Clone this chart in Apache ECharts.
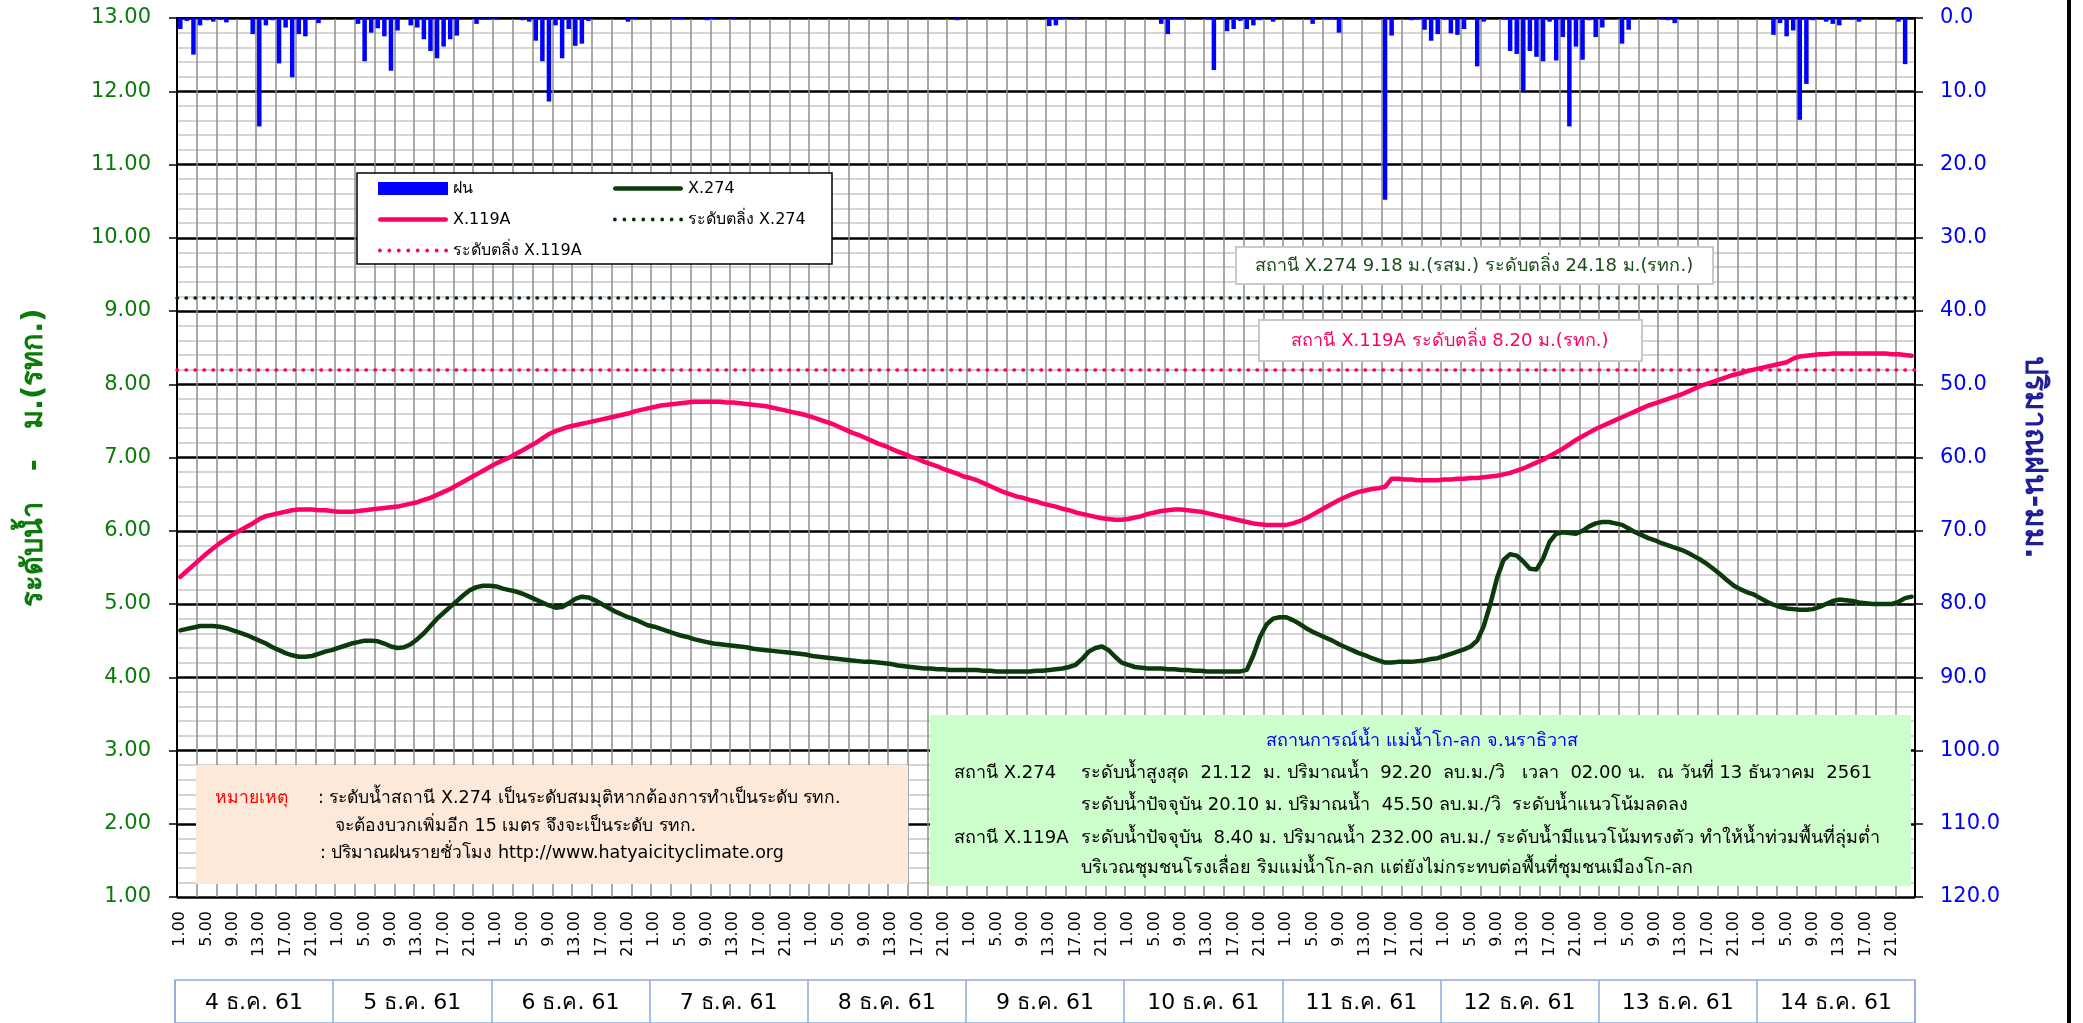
<!DOCTYPE html>
<html>
<head>
<meta charset="utf-8">
<title>X.274 / X.119A</title>
<script src="https://cdn.jsdelivr.net/npm/echarts@6/dist/echarts.min.js"></script>
<style>
html, body { margin: 0; padding: 0; background: #fff; }
#chart { width: 2083px; height: 1023px; }
</style>
</head>
<body>
<div id="chart"></div>
<script>
var hours = ['1.00', '2.00', '3.00', '4.00', '5.00', '6.00', '7.00', '8.00', '9.00', '10.00', '11.00', '12.00',
  '13.00', '14.00', '15.00', '16.00', '17.00', '18.00', '19.00', '20.00', '21.00', '22.00', '23.00', '24.00']
var days = ['4 ธ.ค. 61', '5 ธ.ค. 61', '6 ธ.ค. 61', '7 ธ.ค. 61', '8 ธ.ค. 61', '9 ธ.ค. 61',
  '10 ธ.ค. 61', '11 ธ.ค. 61', '12 ธ.ค. 61', '13 ธ.ค. 61', '14 ธ.ค. 61']

// hourly rain (mm), one row per day
var rain = [
  1.5, 0.4, 5.0, 1.0, 0.3, 0.5, 0.2, 0.6, 0, 0, 0, 2.2, 14.8, 1.0, 0.3, 6.2, 1.3, 8.1, 2.2, 2.5, 0.15, 0.7, 0, 0,
  0, 0, 0, 0.8, 5.9, 2.0, 1.4, 2.5, 7.2, 1.7, 0, 1.0, 1.3, 2.9, 4.5, 5.5, 3.9, 2.9, 2.4, 0, 0, 0.8, 0.2, 0.15,
  0.15, 0, 0, 0, 0.3, 0.5, 3.1, 5.9, 11.4, 1.0, 5.5, 1.5, 3.8, 3.5, 0.4, 0, 0, 0, 0, 0, 0.5, 0.15, 0, 0,
  0, 0, 0, 0.15, 0.15, 0, 0, 0, 0.3, 0.15, 0, 0, 0.15, 0, 0, 0, 0, 0, 0, 0, 0, 0, 0, 0,
  0, 0, 0, 0, 0, 0, 0, 0, 0, 0, 0, 0, 0, 0, 0, 0, 0, 0, 0, 0, 0, 0, 0.3, 0,
  0, 0, 0, 0, 0, 0, 0, 0, 0, 0, 0, 0, 1.1, 1.0, 0.15, 0, 0.2, 0, 0, 0, 0, 0, 0, 0,
  0, 0, 0, 0, 0, 0.8, 2.2, 0.15, 0.15, 0, 0, 0, 0.15, 7.1, 0, 1.8, 1.5, 0.4, 1.5, 1.0, 0.3, 0, 0.5, 0,
  0, 0, 0, 0, 0.8, 0, 0.15, 0.15, 2.0, 0, 0, 0, 0, 0, 0, 24.8, 2.4, 0, 0, 0.3, 0.15, 1.6, 3.1, 2.2,
  0.15, 2.1, 2.3, 1.5, 0, 6.6, 0.5, 0, 0, 0.15, 4.5, 4.9, 10.0, 4.5, 5.3, 5.9, 0.5, 5.8, 2.6, 14.8, 3.9, 5.7, 0.3, 2.6,
  1.3, 0, 0, 3.5, 1.6, 0, 0, 0, 0, 0.15, 0.3, 0.7, 0, 0, 0, 0, 0, 0, 0, 0, 0, 0, 0, 0,
  0, 0, 2.3, 0.7, 2.5, 1.7, 13.9, 9.0, 0.3, 0, 0.5, 0.8, 1.0, 0, 0.15, 0.5, 0, 0, 0, 0, 0, 0.5, 6.3, 0
]

// water level X.274 (m), hourly
var levelX274 = [
  4.64, 4.66, 4.68, 4.70, 4.70, 4.70, 4.69, 4.67, 4.64, 4.61, 4.58, 4.54, 4.50, 4.46, 4.41, 4.37, 4.33, 4.30, 4.28, 4.28, 4.29, 4.32, 4.35, 4.37,
  4.40, 4.43, 4.46, 4.48, 4.50, 4.50, 4.49, 4.46, 4.42, 4.40, 4.41, 4.45, 4.52, 4.60, 4.70, 4.80, 4.88, 4.96, 5.04, 5.12, 5.19, 5.23, 5.25, 5.25,
  5.24, 5.21, 5.19, 5.17, 5.14, 5.10, 5.06, 5.02, 4.98, 4.95, 4.96, 5.01, 5.07, 5.10, 5.09, 5.05, 5.00, 4.95, 4.90, 4.86, 4.82, 4.79, 4.75, 4.71,
  4.69, 4.66, 4.63, 4.60, 4.57, 4.55, 4.52, 4.50, 4.48, 4.46, 4.45, 4.44, 4.43, 4.42, 4.41, 4.39, 4.38, 4.37, 4.36, 4.35, 4.34, 4.33, 4.32, 4.31,
  4.29, 4.28, 4.27, 4.26, 4.25, 4.24, 4.23, 4.22, 4.21, 4.21, 4.20, 4.19, 4.18, 4.16, 4.15, 4.14, 4.13, 4.12, 4.12, 4.11, 4.11, 4.10, 4.10, 4.10,
  4.10, 4.10, 4.09, 4.09, 4.08, 4.08, 4.08, 4.08, 4.08, 4.08, 4.09, 4.09, 4.10, 4.11, 4.12, 4.14, 4.17, 4.25, 4.35, 4.40, 4.42, 4.37, 4.28, 4.20,
  4.17, 4.14, 4.13, 4.12, 4.12, 4.12, 4.11, 4.11, 4.10, 4.10, 4.09, 4.09, 4.08, 4.08, 4.08, 4.08, 4.08, 4.08, 4.10, 4.30, 4.55, 4.72, 4.80, 4.82,
  4.82, 4.78, 4.73, 4.67, 4.62, 4.58, 4.54, 4.50, 4.45, 4.41, 4.37, 4.33, 4.30, 4.26, 4.23, 4.20, 4.20, 4.21, 4.21, 4.21, 4.22, 4.23, 4.25, 4.26,
  4.29, 4.32, 4.35, 4.38, 4.42, 4.50, 4.70, 5.00, 5.35, 5.60, 5.68, 5.66, 5.58, 5.48, 5.47, 5.62, 5.85, 5.96, 5.98, 5.97, 5.96, 6.00, 6.06, 6.10,
  6.12, 6.12, 6.10, 6.08, 6.03, 5.98, 5.94, 5.90, 5.87, 5.83, 5.80, 5.77, 5.74, 5.70, 5.65, 5.60, 5.54, 5.47, 5.40, 5.32, 5.25, 5.20, 5.16, 5.13,
  5.08, 5.03, 4.99, 4.96, 4.94, 4.93, 4.92, 4.92, 4.93, 4.96, 5.00, 5.04, 5.06, 5.05, 5.04, 5.02, 5.01, 5.00, 5.00, 5.00, 5.00, 5.03, 5.08, 5.10
]

// water level X.119A (m), hourly
var levelX119A = [
  5.37, 5.45, 5.53, 5.61, 5.69, 5.76, 5.83, 5.89, 5.95, 6.00, 6.05, 6.10, 6.16, 6.20, 6.22, 6.24, 6.26, 6.28, 6.29, 6.29, 6.29, 6.28, 6.28, 6.27,
  6.26, 6.26, 6.26, 6.27, 6.28, 6.29, 6.30, 6.31, 6.32, 6.33, 6.35, 6.37, 6.39, 6.42, 6.45, 6.49, 6.53, 6.57, 6.62, 6.67, 6.72, 6.77, 6.82, 6.87,
  6.92, 6.96, 7.00, 7.05, 7.10, 7.15, 7.20, 7.26, 7.32, 7.36, 7.39, 7.42, 7.44, 7.46, 7.48, 7.50, 7.52, 7.54, 7.56, 7.58, 7.60, 7.63, 7.65, 7.67,
  7.69, 7.71, 7.72, 7.73, 7.74, 7.75, 7.76, 7.76, 7.76, 7.76, 7.76, 7.75, 7.75, 7.74, 7.73, 7.72, 7.71, 7.70, 7.68, 7.66, 7.64, 7.62, 7.60, 7.58,
  7.55, 7.52, 7.49, 7.46, 7.42, 7.38, 7.34, 7.31, 7.27, 7.23, 7.19, 7.16, 7.12, 7.08, 7.05, 7.01, 6.98, 6.94, 6.91, 6.88, 6.84, 6.81, 6.78, 6.74,
  6.72, 6.69, 6.65, 6.61, 6.57, 6.53, 6.50, 6.47, 6.45, 6.42, 6.40, 6.37, 6.35, 6.33, 6.30, 6.28, 6.25, 6.23, 6.21, 6.19, 6.17, 6.16, 6.15, 6.15,
  6.16, 6.18, 6.20, 6.23, 6.25, 6.27, 6.28, 6.29, 6.29, 6.28, 6.27, 6.26, 6.24, 6.22, 6.20, 6.18, 6.16, 6.14, 6.12, 6.10, 6.09, 6.08, 6.08, 6.08,
  6.08, 6.10, 6.13, 6.17, 6.22, 6.27, 6.32, 6.37, 6.42, 6.46, 6.50, 6.53, 6.55, 6.57, 6.58, 6.60, 6.71, 6.71, 6.70, 6.70, 6.69, 6.69, 6.69, 6.69,
  6.70, 6.70, 6.71, 6.71, 6.72, 6.72, 6.73, 6.74, 6.75, 6.77, 6.79, 6.82, 6.85, 6.89, 6.93, 6.97, 7.02, 7.07, 7.12, 7.18, 7.24, 7.29, 7.34, 7.39,
  7.43, 7.47, 7.51, 7.55, 7.59, 7.63, 7.67, 7.71, 7.74, 7.77, 7.80, 7.83, 7.86, 7.90, 7.94, 7.98, 8.01, 8.04, 8.07, 8.10, 8.13, 8.15, 8.18, 8.20,
  8.22, 8.24, 8.26, 8.28, 8.30, 8.35, 8.38, 8.39, 8.40, 8.41, 8.41, 8.42, 8.42, 8.42, 8.42, 8.42, 8.42, 8.42, 8.42, 8.42, 8.41, 8.41, 8.40, 8.39
]

var bankX274 = 9.18
var bankX119A = 8.20

var categories = []
days.forEach(function(d) {
  hours.forEach(function(h) {
    categories.push(d + '|' + h)
  })
})

var FONT = 'Tahoma, "DejaVu Sans", "Noto Sans", sans-serif'
var PINK = '#ff0066'
var DKGREEN = '#0b3a0b'
var BANKGREEN = '#003300'

// legend icons: a thick rounded stroke and a row of dots, 70px wide
var ICON_LINE = 'path://M2.25,0 L67.75,0 A2.25,2.25 0 0 1 67.75,4.5 L2.25,4.5 A2.25,2.25 0 0 1 2.25,0 Z'
var ICON_DOTS = 'path://'
for (var k = 0; k < 8; k++) {
  var cx = 1.9 + k * 9.46
  ICON_DOTS += 'M' + (cx - 1.9) + ',1.9 A1.9,1.9 0 1 0 ' + (cx + 1.9) + ',1.9 A1.9,1.9 0 1 0 ' + (cx - 1.9) + ',1.9 Z '
}

var myChart = echarts.init(document.getElementById('chart'))

function txt(x, y, text, color, size, align, weight) {
  return {
    type: 'text',
    x: x,
    y: y,
    z: 100,
    style: {
      text: text,
      fill: color,
      font: (weight || 'normal') + ' ' + size + 'px ' + FONT,
      align: align || 'left',
      textAlign: align || 'left',
      verticalAlign: 'middle',
      textVerticalAlign: 'middle'
    }
  }
}

function box(x, y, w, h, fill, stroke) {
  return {
    type: 'rect',
    z: 99,
    shape: { x: x, y: y, width: w, height: h },
    style: { fill: fill, stroke: stroke || null, lineWidth: stroke ? 2 : 0 }
  }
}

var option = {
  animation: false,
  backgroundColor: '#fff',
  textStyle: { fontFamily: FONT },
  grid: [
    { left: 177, top: 18, width: 1738, height: 879, containLabel: false },
    { left: 175, top: 980, width: 1740, height: 70, show: true, borderColor: '#8eaadb', borderWidth: 1.5, backgroundColor: '#fff' }
  ],
  legend: {
    left: 357,
    top: 173,
    width: 470,
    itemWidth: 70,
    itemHeight: 13,
    itemGap: 10,
    padding: [5, 4, 3, 21],
    backgroundColor: '#fff',
    borderColor: '#000',
    borderWidth: 1.5,
    borderRadius: 0,
    symbolKeepAspect: true,
    textStyle: { fontSize: 16, color: '#000', width: 150, lineHeight: 21, fontFamily: FONT },
    data: [
      { name: 'ฝน', icon: 'rect', itemStyle: { color: '#0000ff', borderWidth: 0 } },
      { name: 'X.274', icon: ICON_LINE, itemStyle: { color: DKGREEN, borderWidth: 0 }, textStyle: { width: 140 } },
      { name: 'X.119A', icon: ICON_LINE, itemStyle: { color: PINK, borderWidth: 0 } },
      { name: 'ระดับตลิ่ง X.274', icon: ICON_DOTS, itemStyle: { color: BANKGREEN, borderWidth: 0 }, textStyle: { width: 140 } },
      { name: 'ระดับตลิ่ง X.119A', icon: ICON_DOTS, itemStyle: { color: PINK, borderWidth: 0 } }
    ]
  },
  xAxis: [
    {
      type: 'category',
      gridIndex: 0,
      data: categories,
      boundaryGap: true,
      axisLine: { lineStyle: { color: '#000', width: 2 } },
      axisTick: { interval: 2, length: 7, lineStyle: { color: '#000', width: 1.5 } },
      axisLabel: {
        interval: 3,
        rotate: 90,
        margin: 14,
        fontSize: 16,
        color: '#000',
        fontFamily: FONT,
        formatter: function(v) { return v.split('|')[1] }
      },
      splitLine: { show: true, interval: 2, lineStyle: { color: '#8c8c8c', width: 1.5 } }
    },
    {
      type: 'category',
      gridIndex: 1,
      data: days,
      position: 'top',
      axisLine: { show: false },
      axisTick: { show: false },
      axisLabel: { inside: true, margin: 12, fontSize: 22, color: '#000', fontFamily: FONT },
      splitLine: { show: true, lineStyle: { color: '#8eaadb', width: 1.5 } }
    }
  ],
  yAxis: [
    {
      type: 'value',
      gridIndex: 0,
      min: 1,
      max: 13,
      interval: 1,
      name: 'ระดับน้ำ   -   ม.(รทก.)',
      nameLocation: 'middle',
      nameRotate: 90,
      nameGap: 128,
      nameTextStyle: { color: '#0a7a0a', fontSize: 29, fontWeight: 'bold', fontFamily: FONT },
      axisLine: { show: true, lineStyle: { color: '#000', width: 2 } },
      axisTick: { show: true, length: 8, lineStyle: { color: '#000', width: 1.5 } },
      axisLabel: {
        margin: 26,
        fontSize: 21,
        color: '#0a7a0a',
        fontFamily: FONT,
        formatter: function(v) { return v.toFixed(2) }
      },
      splitLine: { show: true, lineStyle: { color: '#000', width: 2.5 } },
      minorTick: { show: false, splitNumber: 5 },
      minorSplitLine: { show: true, lineStyle: { color: '#c8c8c8', width: 1.5 } }
    },
    {
      type: 'value',
      gridIndex: 0,
      position: 'right',
      inverse: true,
      min: 0,
      max: 120,
      interval: 10,
      name: 'ปริมาณฝน-มม.',
      nameLocation: 'middle',
      nameRotate: -90,
      nameGap: 104,
      nameTextStyle: { color: '#1f1f99', fontSize: 30, fontWeight: 'bold', fontFamily: FONT },
      axisLine: { show: true, lineStyle: { color: '#000', width: 2 } },
      axisTick: { show: true, length: 8, lineStyle: { color: '#000', width: 1.5 } },
      axisLabel: {
        margin: 25,
        fontSize: 21,
        color: '#0000ff',
        fontFamily: FONT,
        formatter: function(v) { return v.toFixed(1) }
      },
      splitLine: { show: false }
    },
    {
      type: 'value',
      gridIndex: 1,
      show: false
    }
  ],
  series: [
    {
      name: 'ฝน',
      type: 'bar',
      xAxisIndex: 0,
      yAxisIndex: 1,
      barWidth: 4.5,
      itemStyle: { color: '#0000ff' },
      data: rain,
      z: 3
    },
    {
      name: 'X.274',
      type: 'line',
      xAxisIndex: 0,
      yAxisIndex: 0,
      symbol: 'none',
      lineStyle: { color: DKGREEN, width: 4.5, cap: 'round', join: 'round' },
      itemStyle: { color: DKGREEN },
      data: levelX274,
      z: 4
    },
    {
      name: 'X.119A',
      type: 'line',
      xAxisIndex: 0,
      yAxisIndex: 0,
      symbol: 'none',
      lineStyle: { color: PINK, width: 4.5, cap: 'round', join: 'round' },
      itemStyle: { color: PINK },
      data: levelX119A,
      z: 4
    },
    {
      name: 'ระดับตลิ่ง X.274',
      type: 'line',
      xAxisIndex: 0,
      yAxisIndex: 0,
      symbol: 'none',
      data: [],
      lineStyle: { color: BANKGREEN, width: 3.5, type: [0.5, 8.5], cap: 'round' },
      itemStyle: { color: BANKGREEN },
      markLine: {
        silent: true,
        symbol: 'none',
        label: { show: false },
        lineStyle: { color: BANKGREEN, width: 3.5, type: [0.5, 8.5], cap: 'round' },
        data: [{ yAxis: bankX274 }]
      },
      z: 3
    },
    {
      name: 'ระดับตลิ่ง X.119A',
      type: 'line',
      xAxisIndex: 0,
      yAxisIndex: 0,
      symbol: 'none',
      data: [],
      lineStyle: { color: PINK, width: 3.5, type: [0.5, 8.5], cap: 'round' },
      itemStyle: { color: PINK },
      markLine: {
        silent: true,
        symbol: 'none',
        label: { show: false },
        lineStyle: { color: PINK, width: 3.5, type: [0.5, 8.5], cap: 'round' },
        data: [{ yAxis: bankX119A }]
      },
      z: 3
    }
  ],
  graphic: [
    // bank level notes
    box(1236, 247, 477, 37, '#fff', '#c8c8c8'),
    txt(1474, 266, 'สถานี X.274 9.18 ม.(รสม.) ระดับตลิ่ง 24.18 ม.(รทก.)', '#1a4a1a', 18, 'center'),
    box(1259, 320, 383, 41, '#fff', '#c8c8c8'),
    txt(1450, 341, 'สถานี X.119A ระดับตลิ่ง 8.20 ม.(รทก.)', PINK, 18, 'center'),
    // remark box
    box(196, 765, 712, 119, '#fde9d9'),
    txt(215, 798, 'หมายเหตุ', '#ff0000', 17.5),
    txt(318, 798, ': ระดับน้ำสถานี X.274 เป็นระดับสมมุติหากต้องการทำเป็นระดับ รทก.', '#000', 17.5),
    txt(335, 826, 'จะต้องบวกเพิ่มอีก 15 เมตร จึงจะเป็นระดับ รทก.', '#000', 17.5),
    txt(320, 853, ': ปริมาณฝนรายชั่วโมง http://www.hatyaicityclimate.org', '#000', 17.5),
    // situation box
    box(930, 715, 981, 171, '#ccffcc'),
    txt(1422, 741, 'สถานการณ์น้ำ แม่น้ำโก-ลก จ.นราธิวาส', '#0000ff', 18, 'center'),
    txt(954, 773, 'สถานี X.274', '#000', 18),
    txt(1081, 773, 'ระดับน้ำสูงสุด  21.12  ม. ปริมาณน้ำ  92.20  ลบ.ม./วิ   เวลา  02.00 น.  ณ วันที่ 13 ธันวาคม  2561', '#000', 18),
    txt(1081, 805, 'ระดับน้ำปัจจุบัน 20.10 ม. ปริมาณน้ำ  45.50 ลบ.ม./วิ  ระดับน้ำแนวโน้มลดลง', '#000', 18),
    txt(954, 838, 'สถานี X.119A', '#000', 18),
    txt(1081, 838, 'ระดับน้ำปัจจุบัน  8.40 ม. ปริมาณน้ำ 232.00 ลบ.ม./ ระดับน้ำมีแนวโน้มทรงตัว ทำให้น้ำท่วมพื้นที่ลุ่มต่ำ', '#000', 18),
    txt(1081, 868, 'บริเวณชุมชนโรงเลื่อย ริมแม่น้ำโก-ลก แต่ยังไม่กระทบต่อพื้นที่ชุมชนเมืองโก-ลก', '#000', 18),
    // right frame edge
    { type: 'rect', z: 100, shape: { x: 2067, y: 0, width: 4, height: 1023 }, style: { fill: '#000' } }
  ]
}

myChart.setOption(option)
</script>
</body>
</html>
